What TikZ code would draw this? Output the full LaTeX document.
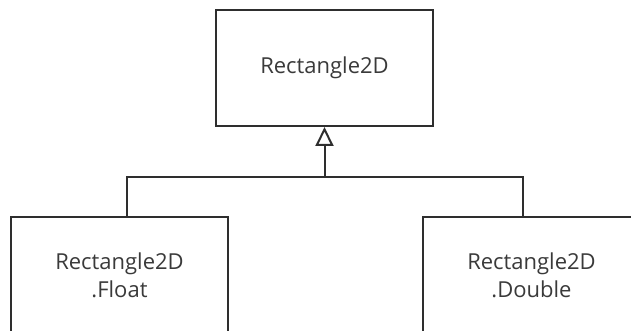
\documentclass[tikz,border=0pt]{standalone}
\usepackage{fontspec}
\setmainfont{Open Sans}
\usetikzlibrary{arrows.meta}
\definecolor{ink}{HTML}{2E2E2E}
\definecolor{txt}{HTML}{3A3A3A}
\tikzset{
  classbox/.style={draw=ink,line width=1pt,minimum width=108.5pt,minimum height=58pt,
    align=center,text=txt,font=\fontsize{11}{14}\selectfont},
  inherit/.style={draw=ink,line width=1pt,-{Triangle[open,width=9pt,length=9.5pt]}}
}
\begin{document}
\begin{tikzpicture}[x=0.5pt,y=-0.5pt]
  \useasboundingbox (0,0) rectangle (631,331);
  \clip (0,0) rectangle (631,331);
  \node [classbox] (rect)   at (324.5,68)  {Rectangle2D};
  \node [classbox] (float)  at (119.5,275) {Rectangle2D\\.Float};
  \node [classbox] (double) at (531.5,275) {Rectangle2D\\.Double};
  \coordinate (fork) at (324.5,177);
  \draw [inherit] (fork) -- (rect.south);
  \draw [draw=ink,line width=1pt] ([xshift=3.75pt]float.north) |- (fork) -| ([xshift=-4.25pt]double.north);
\end{tikzpicture}
\end{document}
